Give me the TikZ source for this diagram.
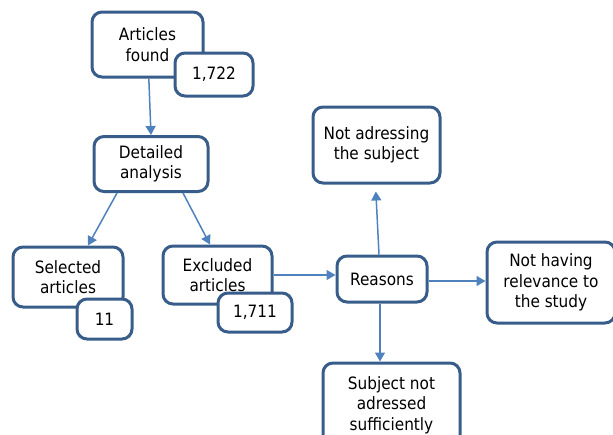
\documentclass[tikz,border=0pt]{standalone}
\usepackage{fontspec}
\setmainfont{DejaVu Sans Condensed}
\usetikzlibrary{arrows.meta,positioning}
\definecolor{boxblue}{RGB}{56,93,138}
\definecolor{arrblue}{RGB}{79,129,189}
\tikzset{%
   box/.style={draw=boxblue, line width=3pt, rounded corners=10pt, fill=white, align=center, inner sep=0pt, font=\fontsize{17}{20.5}\selectfont},
   arr/.style={draw=arrblue, line width=1.5pt, -{Triangle[length=9pt,width=10pt]}},
}

\begin{document}
\begin{tikzpicture}[x=1pt, y=-1pt]
      \useasboundingbox (0,0) rectangle (613,434);
      \node[box, minimum width=111pt, minimum height=65pt] (art) at (147.5,44.5) {Articles\\found};
      \node[box, minimum width=78pt, minimum height=43pt] (n1722) at (214,74.5) {1,722};
      \node[box, minimum width=114pt, minimum height=55pt] (det) at (151,164) {Detailed\\analysis};
      \node[box, minimum width=110pt, minimum height=60pt] (sel) at (68,277) {Selected\\articles};
      \node[box, minimum width=55pt, minimum height=40pt] (n11) at (104.5,319) {11};
      \node[box, minimum width=109pt, minimum height=58pt] (exc) at (217.5,275) {Excluded\\articles};
      \node[box, minimum width=74pt, minimum height=39pt] (n1711) at (255,312.5) {1,711};
      \node[box, minimum width=90pt, minimum height=46pt] (rea) at (382,279) {Reasons};
      \node[box, minimum width=127pt, minimum height=76pt] (nads) at (376.5,145) {Not adressing\\the subject};
      \node[box, minimum width=128pt, minimum height=81pt] (nrel) at (551,282.5) {Not having\\relevance to\\the study};
      \node[box, minimum width=137pt, minimum height=84pt] (subj) at (391.5,405) {Subject not\\adressed\\sufficiently};
      \draw[arr] (art) -- (det.north);
      \draw[arr] ([xshift=-34pt]det.south) -- ([xshift=20pt]sel.north);
      \draw[arr] ([xshift=32pt]det.south) -- ([xshift=-7.5pt]exc.north);
      \draw[arr] (exc.east) -- (exc.east -| rea.west);
      \draw[arr, shorten >=7pt] ([xshift=-3pt]rea.north) -- ([xshift=-1pt]nads.south);
      \draw[arr] ([yshift=-2pt]rea.east) -- ([yshift=-2pt]rea.east -| nrel.west);
      \draw[arr] ([xshift=-2pt]rea.south) -- ([xshift=-2pt]rea.south |- subj.north);
\end{tikzpicture}
\end{document}
